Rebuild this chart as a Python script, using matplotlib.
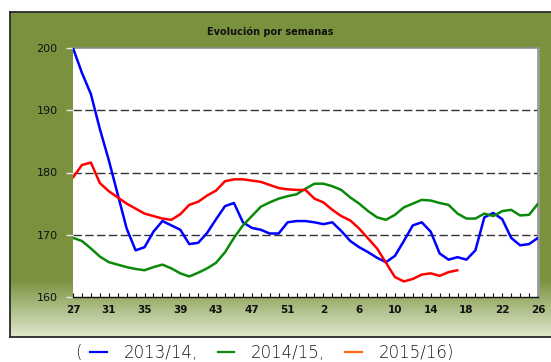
import numpy as np
import matplotlib
matplotlib.use("Agg")
import matplotlib.pyplot as plt
from matplotlib.lines import Line2D
from matplotlib.colors import to_rgb

# ---------------------------------------------------------------------------
# Weekly prices, campaign weeks 27..53 then 1..26
# ---------------------------------------------------------------------------
weeks = list(range(27, 54)) + list(range(1, 27))

s2013_14 = [200.0, 196.0, 192.6, 187.0, 182.0, 176.5, 171.0, 167.5, 168.0, 170.5,
            172.2, 171.5, 170.8, 168.5, 168.7, 170.3, 172.5, 174.6, 175.1, 172.0,
            171.1, 170.8, 170.2, 170.2, 172.0, 172.2, 172.2, 172.0, 171.7, 172.0,
            170.6, 169.0, 168.0, 167.2, 166.3, 165.6, 166.6, 169.0, 171.5, 172.0,
            170.5, 167.0, 166.0, 166.4, 166.0, 167.5, 172.8, 173.5, 172.5, 169.5,
            168.3, 168.5, 169.5]

s2014_15 = [169.5, 169.0, 167.8, 166.5, 165.6, 165.2, 164.8, 164.5, 164.3, 164.8,
            165.2, 164.6, 163.8, 163.3, 163.9, 164.6, 165.5, 167.2, 169.5, 171.5,
            173.0, 174.5, 175.2, 175.8, 176.2, 176.5, 177.4, 178.2, 178.2, 177.8,
            177.2, 176.0, 175.0, 173.8, 172.8, 172.4, 173.2, 174.4, 175.0, 175.6,
            175.5, 175.1, 174.8, 173.4, 172.6, 172.6, 173.4, 173.0, 173.8, 174.0,
            173.1, 173.2, 175.0]

s2015_16 = [179.2, 181.2, 181.6, 178.3, 177.0, 176.0, 175.0, 174.2, 173.4, 173.0,
            172.6, 172.4, 173.3, 174.8, 175.3, 176.3, 177.1, 178.6, 178.9, 178.9,
            178.7, 178.5, 178.0, 177.5, 177.3, 177.2, 177.2, 175.8, 175.2, 174.0,
            173.0, 172.3, 171.0, 169.4, 167.8, 165.5, 163.2, 162.5, 162.9, 163.6,
            163.8, 163.4, 164.0, 164.3]

series_names = ["2013/14,", "2014/15,", "2015/16)"]
line_colors = ["#0000ff", "#0a8a0a", "#ff0000"]
legend_colors = ["#0000ff", "#0a8a0a", "#ff6a10"]
y_ticks = [160, 170, 180, 190, 200]

W, H = 551, 362
fig = plt.figure(figsize=(W / 100, H / 100), dpi=100)
fig.patch.set_facecolor("white")


def fx(px):
    return px / W


def fy(py):
    return 1 - py / H


# olive panel with a pale fade toward the bottom edge
bg = fig.add_axes([fx(10), fy(337), 1 - fx(10) + 0.01, fy(12) - fy(337)])
olive = np.array(to_rgb("#7a913e"))
pale = np.array(to_rgb("#dfe9cd"))
rows = np.linspace(12, 337, 325)
t = np.clip((rows - 280) / (337 - 280), 0, 1)[:, None]
grad = olive * (1 - t) + pale * t
bg.imshow(grad[:, None, :], aspect="auto", extent=[0, 1, 0, 1])
bg.set_xticks([])
bg.set_yticks([])
for side in ["left", "top", "bottom"]:
    bg.spines[side].set_color("#2a2a2a")
    bg.spines[side].set_linewidth(1.3)
bg.spines["right"].set_visible(False)

ax = fig.add_axes([fx(73), fy(297), fx(538) - fx(73), fy(48) - fy(297)])
ax.set_facecolor("white")

x = np.arange(len(weeks))
for vals, c in zip([s2013_14, s2014_15, s2015_16], line_colors):
    ax.plot(x[:len(vals)], vals, color=c, lw=1.8, solid_joinstyle="round",
            solid_capstyle="round", zorder=3)

ax.set_xlim(0, len(weeks) - 1)
ax.set_ylim(160, 200)

for yv in y_ticks[1:-1]:
    ax.axhline(yv, color="#333333", lw=1.0, dashes=(6, 2.5), zorder=1)

ax.set_yticks(y_ticks)
ax.set_yticklabels([str(v) for v in y_ticks], fontsize=8, color="#111111")
ax.tick_params(axis="y", direction="out", length=5, width=1, color="#e8e8e8", pad=6)

ax.set_xticks(x[::4])
ax.set_xticklabels([str(weeks[i]) for i in x[::4]], fontsize=7.5,
                   fontweight="bold", color="#111111")
ax.set_xticks(x, minor=True)
ax.tick_params(axis="x", which="both", direction="in", length=3, width=0.8,
               color="#111111", pad=6, bottom=True)

ax.spines["left"].set_visible(False)
ax.spines["bottom"].set_color("#111111")
ax.spines["bottom"].set_linewidth(1.0)
ax.spines["top"].set_color("#8c8c8c")
ax.spines["top"].set_linewidth(1.2)
ax.spines["right"].set_color("#9a9a9a")
ax.spines["right"].set_linewidth(2.0)

fig.text(fx(270), fy(32), "Evolución por semanas", ha="center", va="center",
         fontsize=7, fontweight="bold", color="#111111")

handles = [Line2D([], [], color=c, lw=1.6) for c in legend_colors]
fig.legend(handles, series_names, loc="center", bbox_to_anchor=(fx(272), fy(353)),
           ncol=3, frameon=False, handlelength=1.0,
           handletextpad=1.0, columnspacing=1.2, borderpad=0.1,
           prop={"family": "DejaVu Sans", "size": 12, "weight": "light"},
           labelcolor="#1a1a1a")
fig.text(fx(78), fy(353), "(", ha="center", va="center", fontsize=12,
         color="#1a1a1a", fontweight="light")

fig.savefig("out.png", dpi=100, facecolor="white")
